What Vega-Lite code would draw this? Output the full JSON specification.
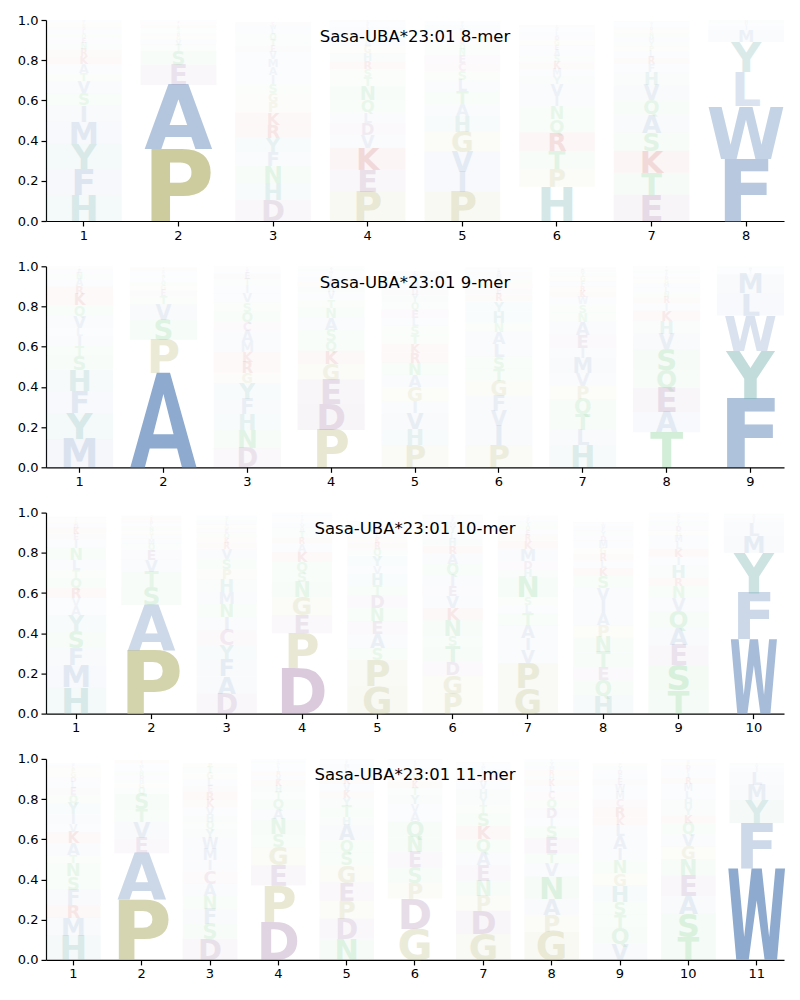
{
"$schema":"https://vega.github.io/schema/vega-lite/v6.json",
"padding":{"left":17,"top":14,"right":5,"bottom":5},
"background":"white",
"config":{"view":{"stroke":null},"font":"DejaVu Sans",
"axis":{"domainColor":"#000","tickColor":"#000","labelColor":"#000","labelFont":"DejaVu Sans","labelFontSize":13,"tickSize":5,"labelPadding":3,"grid":false,"title":null,"domainWidth":1.2,"tickWidth":1.2},
"title":{"font":"DejaVu Sans","fontSize":16.5,"fontWeight":"normal","color":"#000","anchor":"middle","frame":"group","offset":-31}},
"spacing":45.3,
"bounds":"flush",
"datasets":{"logo":[
{"k":8,"p":1,"a":"H","h":0.13},{"k":8,"p":1,"a":"F","h":0.13},{"k":8,"p":1,"a":"Y","h":0.125},{"k":8,"p":1,"a":"M","h":0.11},{"k":8,"p":1,"a":"I","h":0.08},{"k":8,"p":1,"a":"S","h":0.06},{"k":8,"p":1,"a":"V","h":0.06},{"k":8,"p":1,"a":"T","h":0.04},{"k":8,"p":1,"a":"A","h":0.045},{"k":8,"p":1,"a":"K","h":0.04},{"k":8,"p":1,"a":"R","h":0.035},{"k":8,"p":1,"a":"N","h":0.03},{"k":8,"p":1,"a":"E","h":0.025},{"k":8,"p":1,"a":"Q","h":0.02},{"k":8,"p":1,"a":"L","h":0.02},{"k":8,"p":1,"a":"D","h":0.015},{"k":8,"p":1,"a":"G","h":0.015},{"k":8,"p":1,"a":"P","h":0.01},{"k":8,"p":1,"a":"W","h":0.01},
{"k":8,"p":2,"a":"P","h":0.357},{"k":8,"p":2,"a":"A","h":0.32},{"k":8,"p":2,"a":"E","h":0.1},{"k":8,"p":2,"a":"S","h":0.07},{"k":8,"p":2,"a":"T","h":0.03},{"k":8,"p":2,"a":"V","h":0.025},{"k":8,"p":2,"a":"G","h":0.02},{"k":8,"p":2,"a":"D","h":0.015},{"k":8,"p":2,"a":"Q","h":0.012},{"k":8,"p":2,"a":"N","h":0.012},{"k":8,"p":2,"a":"K","h":0.01},{"k":8,"p":2,"a":"L","h":0.008},{"k":8,"p":2,"a":"I","h":0.008},{"k":8,"p":2,"a":"R","h":0.007},{"k":8,"p":2,"a":"M","h":0.006},
{"k":8,"p":3,"a":"D","h":0.105},{"k":8,"p":3,"a":"H","h":0.085},{"k":8,"p":3,"a":"N","h":0.085},{"k":8,"p":3,"a":"F","h":0.07},{"k":8,"p":3,"a":"Y","h":0.07},{"k":8,"p":3,"a":"R","h":0.065},{"k":8,"p":3,"a":"K","h":0.06},{"k":8,"p":3,"a":"P","h":0.05},{"k":8,"p":3,"a":"G","h":0.045},{"k":8,"p":3,"a":"S","h":0.045},{"k":8,"p":3,"a":"I","h":0.045},{"k":8,"p":3,"a":"A","h":0.04},{"k":8,"p":3,"a":"M","h":0.04},{"k":8,"p":3,"a":"V","h":0.035},{"k":8,"p":3,"a":"E","h":0.03},{"k":8,"p":3,"a":"T","h":0.03},{"k":8,"p":3,"a":"Q","h":0.03},{"k":8,"p":3,"a":"L","h":0.025},{"k":8,"p":3,"a":"W","h":0.02},{"k":8,"p":3,"a":"C","h":0.015},
{"k":8,"p":4,"a":"P","h":0.145},{"k":8,"p":4,"a":"E","h":0.11},{"k":8,"p":4,"a":"K","h":0.11},{"k":8,"p":4,"a":"V","h":0.065},{"k":8,"p":4,"a":"D","h":0.06},{"k":8,"p":4,"a":"L","h":0.05},{"k":8,"p":4,"a":"Q","h":0.06},{"k":8,"p":4,"a":"N","h":0.07},{"k":8,"p":4,"a":"T","h":0.045},{"k":8,"p":4,"a":"S","h":0.04},{"k":8,"p":4,"a":"R","h":0.04},{"k":8,"p":4,"a":"H","h":0.04},{"k":8,"p":4,"a":"G","h":0.035},{"k":8,"p":4,"a":"A","h":0.03},{"k":8,"p":4,"a":"Y","h":0.025},{"k":8,"p":4,"a":"M","h":0.02},{"k":8,"p":4,"a":"I","h":0.02},{"k":8,"p":4,"a":"F","h":0.015},{"k":8,"p":4,"a":"W","h":0.01},{"k":8,"p":4,"a":"C","h":0.01},
{"k":8,"p":5,"a":"P","h":0.145},{"k":8,"p":5,"a":"I","h":0.1},{"k":8,"p":5,"a":"V","h":0.1},{"k":8,"p":5,"a":"G","h":0.1},{"k":8,"p":5,"a":"H","h":0.075},{"k":8,"p":5,"a":"A","h":0.06},{"k":8,"p":5,"a":"T","h":0.065},{"k":8,"p":5,"a":"L","h":0.055},{"k":8,"p":5,"a":"S","h":0.045},{"k":8,"p":5,"a":"C","h":0.04},{"k":8,"p":5,"a":"E","h":0.04},{"k":8,"p":5,"a":"N","h":0.03},{"k":8,"p":5,"a":"Q","h":0.025},{"k":8,"p":5,"a":"D","h":0.02},{"k":8,"p":5,"a":"K","h":0.02},{"k":8,"p":5,"a":"R","h":0.02},{"k":8,"p":5,"a":"M","h":0.02},{"k":8,"p":5,"a":"Y","h":0.015},{"k":8,"p":5,"a":"F","h":0.01},{"k":8,"p":5,"a":"W","h":0.01},
{"k":8,"p":6,"a":"H","h":0.17},{"k":8,"p":6,"a":"P","h":0.09},{"k":8,"p":6,"a":"T","h":0.09},{"k":8,"p":6,"a":"R","h":0.09},{"k":8,"p":6,"a":"Q","h":0.065},{"k":8,"p":6,"a":"N","h":0.065},{"k":8,"p":6,"a":"I","h":0.05},{"k":8,"p":6,"a":"V","h":0.06},{"k":8,"p":6,"a":"Y","h":0.04},{"k":8,"p":6,"a":"M","h":0.035},{"k":8,"p":6,"a":"K","h":0.035},{"k":8,"p":6,"a":"S","h":0.03},{"k":8,"p":6,"a":"A","h":0.03},{"k":8,"p":6,"a":"E","h":0.025},{"k":8,"p":6,"a":"G","h":0.025},{"k":8,"p":6,"a":"D","h":0.02},{"k":8,"p":6,"a":"L","h":0.02},{"k":8,"p":6,"a":"F","h":0.015},{"k":8,"p":6,"a":"W","h":0.01},{"k":8,"p":6,"a":"C","h":0.01},
{"k":8,"p":7,"a":"E","h":0.13},{"k":8,"p":7,"a":"T","h":0.11},{"k":8,"p":7,"a":"K","h":0.11},{"k":8,"p":7,"a":"S","h":0.09},{"k":8,"p":7,"a":"A","h":0.09},{"k":8,"p":7,"a":"Q","h":0.07},{"k":8,"p":7,"a":"V","h":0.075},{"k":8,"p":7,"a":"H","h":0.065},{"k":8,"p":7,"a":"F","h":0.04},{"k":8,"p":7,"a":"R","h":0.035},{"k":8,"p":7,"a":"L","h":0.03},{"k":8,"p":7,"a":"P","h":0.025},{"k":8,"p":7,"a":"Y","h":0.025},{"k":8,"p":7,"a":"M","h":0.02},{"k":8,"p":7,"a":"N","h":0.02},{"k":8,"p":7,"a":"G","h":0.015},{"k":8,"p":7,"a":"D","h":0.015},{"k":8,"p":7,"a":"I","h":0.015},{"k":8,"p":7,"a":"W","h":0.01},{"k":8,"p":7,"a":"C","h":0.005},
{"k":8,"p":8,"a":"F","h":0.31},{"k":8,"p":8,"a":"W","h":0.26},{"k":8,"p":8,"a":"L","h":0.17},{"k":8,"p":8,"a":"Y","h":0.15},{"k":8,"p":8,"a":"M","h":0.06},{"k":8,"p":8,"a":"I","h":0.02},{"k":8,"p":8,"a":"V","h":0.015},{"k":8,"p":8,"a":"H","h":0.015},
{"k":9,"p":1,"a":"M","h":0.14},{"k":9,"p":1,"a":"Y","h":0.13},{"k":9,"p":1,"a":"F","h":0.11},{"k":9,"p":1,"a":"H","h":0.105},{"k":9,"p":1,"a":"S","h":0.07},{"k":9,"p":1,"a":"T","h":0.05},{"k":9,"p":1,"a":"I","h":0.05},{"k":9,"p":1,"a":"L","h":0.04},{"k":9,"p":1,"a":"V","h":0.06},{"k":9,"p":1,"a":"Q","h":0.05},{"k":9,"p":1,"a":"K","h":0.055},{"k":9,"p":1,"a":"R","h":0.04},{"k":9,"p":1,"a":"A","h":0.035},{"k":9,"p":1,"a":"N","h":0.03},{"k":9,"p":1,"a":"E","h":0.02},{"k":9,"p":1,"a":"G","h":0.01},{"k":9,"p":1,"a":"D","h":0.005},
{"k":9,"p":2,"a":"A","h":0.47},{"k":9,"p":2,"a":"P","h":0.165},{"k":9,"p":2,"a":"S","h":0.1},{"k":9,"p":2,"a":"V","h":0.075},{"k":9,"p":2,"a":"T","h":0.04},{"k":9,"p":2,"a":"E","h":0.03},{"k":9,"p":2,"a":"G","h":0.025},{"k":9,"p":2,"a":"Q","h":0.02},{"k":9,"p":2,"a":"L","h":0.015},{"k":9,"p":2,"a":"N","h":0.015},{"k":9,"p":2,"a":"I","h":0.01},{"k":9,"p":2,"a":"M","h":0.01},{"k":9,"p":2,"a":"D","h":0.01},{"k":9,"p":2,"a":"K","h":0.005},{"k":9,"p":2,"a":"R","h":0.005},
{"k":9,"p":3,"a":"D","h":0.095},{"k":9,"p":3,"a":"N","h":0.09},{"k":9,"p":3,"a":"H","h":0.08},{"k":9,"p":3,"a":"F","h":0.075},{"k":9,"p":3,"a":"Y","h":0.08},{"k":9,"p":3,"a":"G","h":0.05},{"k":9,"p":3,"a":"R","h":0.055},{"k":9,"p":3,"a":"K","h":0.05},{"k":9,"p":3,"a":"M","h":0.05},{"k":9,"p":3,"a":"A","h":0.055},{"k":9,"p":3,"a":"C","h":0.045},{"k":9,"p":3,"a":"Q","h":0.05},{"k":9,"p":3,"a":"S","h":0.045},{"k":9,"p":3,"a":"V","h":0.045},{"k":9,"p":3,"a":"I","h":0.04},{"k":9,"p":3,"a":"T","h":0.03},{"k":9,"p":3,"a":"E","h":0.03},{"k":9,"p":3,"a":"L","h":0.015},{"k":9,"p":3,"a":"W","h":0.01},{"k":9,"p":3,"a":"P","h":0.01},
{"k":9,"p":4,"a":"P","h":0.185},{"k":9,"p":4,"a":"D","h":0.13},{"k":9,"p":4,"a":"E","h":0.12},{"k":9,"p":4,"a":"G","h":0.08},{"k":9,"p":4,"a":"K","h":0.065},{"k":9,"p":4,"a":"Q","h":0.05},{"k":9,"p":4,"a":"S","h":0.055},{"k":9,"p":4,"a":"A","h":0.06},{"k":9,"p":4,"a":"N","h":0.05},{"k":9,"p":4,"a":"T","h":0.04},{"k":9,"p":4,"a":"V","h":0.035},{"k":9,"p":4,"a":"H","h":0.03},{"k":9,"p":4,"a":"R","h":0.025},{"k":9,"p":4,"a":"L","h":0.02},{"k":9,"p":4,"a":"I","h":0.015},{"k":9,"p":4,"a":"M","h":0.015},{"k":9,"p":4,"a":"Y","h":0.015},{"k":9,"p":4,"a":"F","h":0.01},
{"k":9,"p":5,"a":"P","h":0.11},{"k":9,"p":5,"a":"H","h":0.08},{"k":9,"p":5,"a":"V","h":0.08},{"k":9,"p":5,"a":"I","h":0.06},{"k":9,"p":5,"a":"G","h":0.07},{"k":9,"p":5,"a":"A","h":0.06},{"k":9,"p":5,"a":"N","h":0.06},{"k":9,"p":5,"a":"R","h":0.05},{"k":9,"p":5,"a":"K","h":0.045},{"k":9,"p":5,"a":"T","h":0.045},{"k":9,"p":5,"a":"S","h":0.045},{"k":9,"p":5,"a":"L","h":0.04},{"k":9,"p":5,"a":"E","h":0.04},{"k":9,"p":5,"a":"Q","h":0.035},{"k":9,"p":5,"a":"Y","h":0.035},{"k":9,"p":5,"a":"D","h":0.03},{"k":9,"p":5,"a":"M","h":0.03},{"k":9,"p":5,"a":"F","h":0.025},{"k":9,"p":5,"a":"W","h":0.02},{"k":9,"p":5,"a":"C","h":0.015},
{"k":9,"p":6,"a":"P","h":0.11},{"k":9,"p":6,"a":"I","h":0.095},{"k":9,"p":6,"a":"V","h":0.075},{"k":9,"p":6,"a":"F","h":0.075},{"k":9,"p":6,"a":"G","h":0.075},{"k":9,"p":6,"a":"T","h":0.06},{"k":9,"p":6,"a":"S","h":0.06},{"k":9,"p":6,"a":"L","h":0.065},{"k":9,"p":6,"a":"A","h":0.06},{"k":9,"p":6,"a":"N","h":0.045},{"k":9,"p":6,"a":"H","h":0.055},{"k":9,"p":6,"a":"Y","h":0.05},{"k":9,"p":6,"a":"R","h":0.035},{"k":9,"p":6,"a":"E","h":0.03},{"k":9,"p":6,"a":"K","h":0.025},{"k":9,"p":6,"a":"Q","h":0.025},{"k":9,"p":6,"a":"M","h":0.02},{"k":9,"p":6,"a":"D","h":0.015},{"k":9,"p":6,"a":"W","h":0.01},{"k":9,"p":6,"a":"C","h":0.01},
{"k":9,"p":7,"a":"H","h":0.11},{"k":9,"p":7,"a":"L","h":0.075},{"k":9,"p":7,"a":"T","h":0.08},{"k":9,"p":7,"a":"Q","h":0.075},{"k":9,"p":7,"a":"P","h":0.065},{"k":9,"p":7,"a":"V","h":0.065},{"k":9,"p":7,"a":"M","h":0.075},{"k":9,"p":7,"a":"I","h":0.05},{"k":9,"p":7,"a":"E","h":0.065},{"k":9,"p":7,"a":"A","h":0.065},{"k":9,"p":7,"a":"N","h":0.045},{"k":9,"p":7,"a":"S","h":0.04},{"k":9,"p":7,"a":"W","h":0.035},{"k":9,"p":7,"a":"K","h":0.03},{"k":9,"p":7,"a":"R","h":0.025},{"k":9,"p":7,"a":"F","h":0.025},{"k":9,"p":7,"a":"G","h":0.025},{"k":9,"p":7,"a":"Y","h":0.02},{"k":9,"p":7,"a":"D","h":0.015},{"k":9,"p":7,"a":"C","h":0.01},
{"k":9,"p":8,"a":"T","h":0.175},{"k":9,"p":8,"a":"A","h":0.1},{"k":9,"p":8,"a":"E","h":0.12},{"k":9,"p":8,"a":"Q","h":0.09},{"k":9,"p":8,"a":"S","h":0.105},{"k":9,"p":8,"a":"V","h":0.075},{"k":9,"p":8,"a":"H","h":0.065},{"k":9,"p":8,"a":"K","h":0.05},{"k":9,"p":8,"a":"I","h":0.035},{"k":9,"p":8,"a":"R","h":0.03},{"k":9,"p":8,"a":"N","h":0.025},{"k":9,"p":8,"a":"L","h":0.025},{"k":9,"p":8,"a":"M","h":0.02},{"k":9,"p":8,"a":"G","h":0.02},{"k":9,"p":8,"a":"D","h":0.015},{"k":9,"p":8,"a":"F","h":0.015},{"k":9,"p":8,"a":"Y","h":0.015},{"k":9,"p":8,"a":"P","h":0.01},{"k":9,"p":8,"a":"W","h":0.005},{"k":9,"p":8,"a":"C","h":0.005},
{"k":9,"p":9,"a":"F","h":0.34},{"k":9,"p":9,"a":"Y","h":0.24},{"k":9,"p":9,"a":"W","h":0.175},{"k":9,"p":9,"a":"L","h":0.11},{"k":9,"p":9,"a":"M","h":0.095},{"k":9,"p":9,"a":"I","h":0.015},{"k":9,"p":9,"a":"V","h":0.015},{"k":9,"p":9,"a":"H","h":0.01},
{"k":10,"p":1,"a":"H","h":0.13},{"k":10,"p":1,"a":"M","h":0.11},{"k":10,"p":1,"a":"F","h":0.085},{"k":10,"p":1,"a":"S","h":0.085},{"k":10,"p":1,"a":"Y","h":0.08},{"k":10,"p":1,"a":"A","h":0.045},{"k":10,"p":1,"a":"V","h":0.04},{"k":10,"p":1,"a":"R","h":0.05},{"k":10,"p":1,"a":"Q","h":0.05},{"k":10,"p":1,"a":"T","h":0.04},{"k":10,"p":1,"a":"L","h":0.05},{"k":10,"p":1,"a":"N","h":0.06},{"k":10,"p":1,"a":"I","h":0.04},{"k":10,"p":1,"a":"E","h":0.03},{"k":10,"p":1,"a":"K","h":0.03},{"k":10,"p":1,"a":"D","h":0.02},{"k":10,"p":1,"a":"G","h":0.015},{"k":10,"p":1,"a":"P","h":0.01},{"k":10,"p":1,"a":"C","h":0.01},
{"k":10,"p":2,"a":"P","h":0.315},{"k":10,"p":2,"a":"A","h":0.225},{"k":10,"p":2,"a":"S","h":0.09},{"k":10,"p":2,"a":"T","h":0.075},{"k":10,"p":2,"a":"V","h":0.06},{"k":10,"p":2,"a":"E","h":0.05},{"k":10,"p":2,"a":"Q","h":0.03},{"k":10,"p":2,"a":"M","h":0.025},{"k":10,"p":2,"a":"I","h":0.02},{"k":10,"p":2,"a":"G","h":0.02},{"k":10,"p":2,"a":"N","h":0.02},{"k":10,"p":2,"a":"L","h":0.015},{"k":10,"p":2,"a":"D","h":0.015},{"k":10,"p":2,"a":"K","h":0.01},{"k":10,"p":2,"a":"R","h":0.01},{"k":10,"p":2,"a":"H","h":0.005},
{"k":10,"p":3,"a":"D","h":0.1},{"k":10,"p":3,"a":"A","h":0.085},{"k":10,"p":3,"a":"F","h":0.085},{"k":10,"p":3,"a":"Y","h":0.07},{"k":10,"p":3,"a":"C","h":0.075},{"k":10,"p":3,"a":"I","h":0.065},{"k":10,"p":3,"a":"N","h":0.065},{"k":10,"p":3,"a":"M","h":0.06},{"k":10,"p":3,"a":"H","h":0.065},{"k":10,"p":3,"a":"P","h":0.05},{"k":10,"p":3,"a":"S","h":0.05},{"k":10,"p":3,"a":"V","h":0.05},{"k":10,"p":3,"a":"R","h":0.03},{"k":10,"p":3,"a":"K","h":0.025},{"k":10,"p":3,"a":"Q","h":0.025},{"k":10,"p":3,"a":"E","h":0.02},{"k":10,"p":3,"a":"G","h":0.02},{"k":10,"p":3,"a":"L","h":0.02},{"k":10,"p":3,"a":"T","h":0.015},{"k":10,"p":3,"a":"W","h":0.01},
{"k":10,"p":4,"a":"D","h":0.225},{"k":10,"p":4,"a":"P","h":0.175},{"k":10,"p":4,"a":"E","h":0.09},{"k":10,"p":4,"a":"G","h":0.09},{"k":10,"p":4,"a":"N","h":0.075},{"k":10,"p":4,"a":"S","h":0.05},{"k":10,"p":4,"a":"Q","h":0.05},{"k":10,"p":4,"a":"K","h":0.05},{"k":10,"p":4,"a":"A","h":0.04},{"k":10,"p":4,"a":"R","h":0.03},{"k":10,"p":4,"a":"T","h":0.03},{"k":10,"p":4,"a":"H","h":0.02},{"k":10,"p":4,"a":"V","h":0.02},{"k":10,"p":4,"a":"L","h":0.015},{"k":10,"p":4,"a":"M","h":0.01},{"k":10,"p":4,"a":"I","h":0.01},{"k":10,"p":4,"a":"Y","h":0.01},{"k":10,"p":4,"a":"F","h":0.005},{"k":10,"p":4,"a":"C","h":0.005},
{"k":10,"p":5,"a":"G","h":0.135},{"k":10,"p":5,"a":"P","h":0.13},{"k":10,"p":5,"a":"S","h":0.06},{"k":10,"p":5,"a":"A","h":0.07},{"k":10,"p":5,"a":"E","h":0.065},{"k":10,"p":5,"a":"N","h":0.065},{"k":10,"p":5,"a":"D","h":0.065},{"k":10,"p":5,"a":"T","h":0.05},{"k":10,"p":5,"a":"H","h":0.055},{"k":10,"p":5,"a":"V","h":0.04},{"k":10,"p":5,"a":"Y","h":0.05},{"k":10,"p":5,"a":"Q","h":0.035},{"k":10,"p":5,"a":"R","h":0.03},{"k":10,"p":5,"a":"K","h":0.025},{"k":10,"p":5,"a":"L","h":0.025},{"k":10,"p":5,"a":"I","h":0.02},{"k":10,"p":5,"a":"M","h":0.02},{"k":10,"p":5,"a":"F","h":0.01},{"k":10,"p":5,"a":"W","h":0.005},{"k":10,"p":5,"a":"C","h":0.005},
{"k":10,"p":6,"a":"P","h":0.1},{"k":10,"p":6,"a":"G","h":0.09},{"k":10,"p":6,"a":"D","h":0.065},{"k":10,"p":6,"a":"T","h":0.08},{"k":10,"p":6,"a":"S","h":0.05},{"k":10,"p":6,"a":"N","h":0.08},{"k":10,"p":6,"a":"K","h":0.06},{"k":10,"p":6,"a":"V","h":0.06},{"k":10,"p":6,"a":"E","h":0.05},{"k":10,"p":6,"a":"I","h":0.055},{"k":10,"p":6,"a":"Q","h":0.055},{"k":10,"p":6,"a":"A","h":0.05},{"k":10,"p":6,"a":"R","h":0.04},{"k":10,"p":6,"a":"H","h":0.035},{"k":10,"p":6,"a":"L","h":0.03},{"k":10,"p":6,"a":"Y","h":0.03},{"k":10,"p":6,"a":"M","h":0.025},{"k":10,"p":6,"a":"F","h":0.015},{"k":10,"p":6,"a":"W","h":0.01},{"k":10,"p":6,"a":"C","h":0.01},
{"k":10,"p":7,"a":"G","h":0.125},{"k":10,"p":7,"a":"P","h":0.125},{"k":10,"p":7,"a":"V","h":0.065},{"k":10,"p":7,"a":"I","h":0.06},{"k":10,"p":7,"a":"A","h":0.065},{"k":10,"p":7,"a":"T","h":0.06},{"k":10,"p":7,"a":"L","h":0.04},{"k":10,"p":7,"a":"S","h":0.04},{"k":10,"p":7,"a":"N","h":0.1},{"k":10,"p":7,"a":"H","h":0.04},{"k":10,"p":7,"a":"D","h":0.04},{"k":10,"p":7,"a":"M","h":0.06},{"k":10,"p":7,"a":"K","h":0.04},{"k":10,"p":7,"a":"R","h":0.03},{"k":10,"p":7,"a":"E","h":0.025},{"k":10,"p":7,"a":"Q","h":0.02},{"k":10,"p":7,"a":"Y","h":0.02},{"k":10,"p":7,"a":"F","h":0.015},{"k":10,"p":7,"a":"W","h":0.01},{"k":10,"p":7,"a":"C","h":0.005},
{"k":10,"p":8,"a":"H","h":0.09},{"k":10,"p":8,"a":"Q","h":0.075},{"k":10,"p":8,"a":"E","h":0.065},{"k":10,"p":8,"a":"T","h":0.075},{"k":10,"p":8,"a":"N","h":0.075},{"k":10,"p":8,"a":"P","h":0.06},{"k":10,"p":8,"a":"A","h":0.06},{"k":10,"p":8,"a":"I","h":0.065},{"k":10,"p":8,"a":"V","h":0.06},{"k":10,"p":8,"a":"S","h":0.06},{"k":10,"p":8,"a":"K","h":0.04},{"k":10,"p":8,"a":"L","h":0.035},{"k":10,"p":8,"a":"R","h":0.035},{"k":10,"p":8,"a":"G","h":0.03},{"k":10,"p":8,"a":"M","h":0.035},{"k":10,"p":8,"a":"D","h":0.025},{"k":10,"p":8,"a":"Y","h":0.025},{"k":10,"p":8,"a":"F","h":0.02},{"k":10,"p":8,"a":"W","h":0.015},{"k":10,"p":8,"a":"C","h":0.01},
{"k":10,"p":9,"a":"T","h":0.115},{"k":10,"p":9,"a":"S","h":0.125},{"k":10,"p":9,"a":"E","h":0.1},{"k":10,"p":9,"a":"A","h":0.085},{"k":10,"p":9,"a":"Q","h":0.085},{"k":10,"p":9,"a":"V","h":0.065},{"k":10,"p":9,"a":"N","h":0.06},{"k":10,"p":9,"a":"R","h":0.04},{"k":10,"p":9,"a":"H","h":0.065},{"k":10,"p":9,"a":"I","h":0.04},{"k":10,"p":9,"a":"K","h":0.04},{"k":10,"p":9,"a":"L","h":0.035},{"k":10,"p":9,"a":"M","h":0.03},{"k":10,"p":9,"a":"G","h":0.025},{"k":10,"p":9,"a":"D","h":0.025},{"k":10,"p":9,"a":"Y","h":0.02},{"k":10,"p":9,"a":"F","h":0.015},{"k":10,"p":9,"a":"P","h":0.015},{"k":10,"p":9,"a":"W","h":0.01},{"k":10,"p":9,"a":"C","h":0.005},
{"k":10,"p":10,"a":"W","h":0.37},{"k":10,"p":10,"a":"F","h":0.23},{"k":10,"p":10,"a":"Y","h":0.2},{"k":10,"p":10,"a":"M","h":0.085},{"k":10,"p":10,"a":"L","h":0.065},{"k":10,"p":10,"a":"I","h":0.02},{"k":10,"p":10,"a":"V","h":0.015},{"k":10,"p":10,"a":"H","h":0.01},
{"k":11,"p":1,"a":"H","h":0.12},{"k":11,"p":1,"a":"M","h":0.09},{"k":11,"p":1,"a":"R","h":0.065},{"k":11,"p":1,"a":"F","h":0.075},{"k":11,"p":1,"a":"S","h":0.065},{"k":11,"p":1,"a":"N","h":0.065},{"k":11,"p":1,"a":"T","h":0.04},{"k":11,"p":1,"a":"A","h":0.06},{"k":11,"p":1,"a":"K","h":0.055},{"k":11,"p":1,"a":"V","h":0.04},{"k":11,"p":1,"a":"I","h":0.05},{"k":11,"p":1,"a":"Y","h":0.055},{"k":11,"p":1,"a":"Q","h":0.04},{"k":11,"p":1,"a":"E","h":0.035},{"k":11,"p":1,"a":"L","h":0.03},{"k":11,"p":1,"a":"D","h":0.025},{"k":11,"p":1,"a":"G","h":0.025},{"k":11,"p":1,"a":"P","h":0.02},{"k":11,"p":1,"a":"C","h":0.015},{"k":11,"p":1,"a":"W","h":0.01},
{"k":11,"p":2,"a":"P","h":0.3},{"k":11,"p":2,"a":"A","h":0.23},{"k":11,"p":2,"a":"E","h":0.075},{"k":11,"p":2,"a":"V","h":0.08},{"k":11,"p":2,"a":"T","h":0.065},{"k":11,"p":2,"a":"S","h":0.075},{"k":11,"p":2,"a":"Q","h":0.03},{"k":11,"p":2,"a":"G","h":0.025},{"k":11,"p":2,"a":"H","h":0.02},{"k":11,"p":2,"a":"D","h":0.02},{"k":11,"p":2,"a":"N","h":0.02},{"k":11,"p":2,"a":"L","h":0.015},{"k":11,"p":2,"a":"M","h":0.015},{"k":11,"p":2,"a":"I","h":0.01},{"k":11,"p":2,"a":"K","h":0.01},{"k":11,"p":2,"a":"R","h":0.005},
{"k":11,"p":3,"a":"D","h":0.105},{"k":11,"p":3,"a":"S","h":0.075},{"k":11,"p":3,"a":"F","h":0.075},{"k":11,"p":3,"a":"N","h":0.065},{"k":11,"p":3,"a":"A","h":0.06},{"k":11,"p":3,"a":"C","h":0.065},{"k":11,"p":3,"a":"I","h":0.05},{"k":11,"p":3,"a":"M","h":0.055},{"k":11,"p":3,"a":"W","h":0.055},{"k":11,"p":3,"a":"Y","h":0.045},{"k":11,"p":3,"a":"Q","h":0.035},{"k":11,"p":3,"a":"H","h":0.035},{"k":11,"p":3,"a":"V","h":0.04},{"k":11,"p":3,"a":"K","h":0.035},{"k":11,"p":3,"a":"R","h":0.04},{"k":11,"p":3,"a":"E","h":0.03},{"k":11,"p":3,"a":"L","h":0.035},{"k":11,"p":3,"a":"G","h":0.03},{"k":11,"p":3,"a":"T","h":0.03},{"k":11,"p":3,"a":"P","h":0.02},
{"k":11,"p":4,"a":"D","h":0.19},{"k":11,"p":4,"a":"P","h":0.18},{"k":11,"p":4,"a":"E","h":0.1},{"k":11,"p":4,"a":"G","h":0.09},{"k":11,"p":4,"a":"S","h":0.065},{"k":11,"p":4,"a":"N","h":0.075},{"k":11,"p":4,"a":"A","h":0.05},{"k":11,"p":4,"a":"Q","h":0.05},{"k":11,"p":4,"a":"T","h":0.035},{"k":11,"p":4,"a":"H","h":0.03},{"k":11,"p":4,"a":"K","h":0.03},{"k":11,"p":4,"a":"V","h":0.025},{"k":11,"p":4,"a":"R","h":0.02},{"k":11,"p":4,"a":"I","h":0.015},{"k":11,"p":4,"a":"L","h":0.015},{"k":11,"p":4,"a":"M","h":0.01},{"k":11,"p":4,"a":"Y","h":0.01},{"k":11,"p":4,"a":"F","h":0.005},{"k":11,"p":4,"a":"W","h":0.005},
{"k":11,"p":5,"a":"N","h":0.105},{"k":11,"p":5,"a":"D","h":0.1},{"k":11,"p":5,"a":"P","h":0.09},{"k":11,"p":5,"a":"E","h":0.09},{"k":11,"p":5,"a":"G","h":0.085},{"k":11,"p":5,"a":"S","h":0.065},{"k":11,"p":5,"a":"Q","h":0.06},{"k":11,"p":5,"a":"A","h":0.075},{"k":11,"p":5,"a":"H","h":0.04},{"k":11,"p":5,"a":"T","h":0.055},{"k":11,"p":5,"a":"Y","h":0.04},{"k":11,"p":5,"a":"K","h":0.035},{"k":11,"p":5,"a":"V","h":0.035},{"k":11,"p":5,"a":"R","h":0.03},{"k":11,"p":5,"a":"I","h":0.025},{"k":11,"p":5,"a":"L","h":0.025},{"k":11,"p":5,"a":"M","h":0.02},{"k":11,"p":5,"a":"F","h":0.015},{"k":11,"p":5,"a":"W","h":0.005},{"k":11,"p":5,"a":"C","h":0.005},
{"k":11,"p":6,"a":"G","h":0.155},{"k":11,"p":6,"a":"D","h":0.15},{"k":11,"p":6,"a":"P","h":0.08},{"k":11,"p":6,"a":"S","h":0.075},{"k":11,"p":6,"a":"E","h":0.075},{"k":11,"p":6,"a":"N","h":0.075},{"k":11,"p":6,"a":"Q","h":0.08},{"k":11,"p":6,"a":"A","h":0.045},{"k":11,"p":6,"a":"V","h":0.04},{"k":11,"p":6,"a":"Y","h":0.045},{"k":11,"p":6,"a":"T","h":0.035},{"k":11,"p":6,"a":"K","h":0.03},{"k":11,"p":6,"a":"R","h":0.025},{"k":11,"p":6,"a":"H","h":0.025},{"k":11,"p":6,"a":"I","h":0.02},{"k":11,"p":6,"a":"L","h":0.015},{"k":11,"p":6,"a":"M","h":0.01},{"k":11,"p":6,"a":"F","h":0.01},{"k":11,"p":6,"a":"W","h":0.005},{"k":11,"p":6,"a":"C","h":0.005},
{"k":11,"p":7,"a":"G","h":0.13},{"k":11,"p":7,"a":"D","h":0.115},{"k":11,"p":7,"a":"P","h":0.075},{"k":11,"p":7,"a":"N","h":0.075},{"k":11,"p":7,"a":"E","h":0.075},{"k":11,"p":7,"a":"A","h":0.065},{"k":11,"p":7,"a":"Q","h":0.065},{"k":11,"p":7,"a":"K","h":0.065},{"k":11,"p":7,"a":"S","h":0.065},{"k":11,"p":7,"a":"T","h":0.04},{"k":11,"p":7,"a":"Y","h":0.04},{"k":11,"p":7,"a":"H","h":0.04},{"k":11,"p":7,"a":"V","h":0.035},{"k":11,"p":7,"a":"R","h":0.025},{"k":11,"p":7,"a":"I","h":0.02},{"k":11,"p":7,"a":"L","h":0.02},{"k":11,"p":7,"a":"M","h":0.015},{"k":11,"p":7,"a":"F","h":0.01},{"k":11,"p":7,"a":"W","h":0.005},{"k":11,"p":7,"a":"C","h":0.005},
{"k":11,"p":8,"a":"G","h":0.14},{"k":11,"p":8,"a":"P","h":0.085},{"k":11,"p":8,"a":"A","h":0.08},{"k":11,"p":8,"a":"N","h":0.11},{"k":11,"p":8,"a":"V","h":0.065},{"k":11,"p":8,"a":"T","h":0.05},{"k":11,"p":8,"a":"E","h":0.075},{"k":11,"p":8,"a":"S","h":0.06},{"k":11,"p":8,"a":"I","h":0.04},{"k":11,"p":8,"a":"D","h":0.05},{"k":11,"p":8,"a":"Q","h":0.045},{"k":11,"p":8,"a":"C","h":0.035},{"k":11,"p":8,"a":"L","h":0.03},{"k":11,"p":8,"a":"K","h":0.03},{"k":11,"p":8,"a":"H","h":0.025},{"k":11,"p":8,"a":"R","h":0.025},{"k":11,"p":8,"a":"M","h":0.02},{"k":11,"p":8,"a":"Y","h":0.02},{"k":11,"p":8,"a":"F","h":0.01},{"k":11,"p":8,"a":"W","h":0.005},
{"k":11,"p":9,"a":"V","h":0.08},{"k":11,"p":9,"a":"Q","h":0.08},{"k":11,"p":9,"a":"T","h":0.065},{"k":11,"p":9,"a":"S","h":0.065},{"k":11,"p":9,"a":"H","h":0.08},{"k":11,"p":9,"a":"G","h":0.06},{"k":11,"p":9,"a":"N","h":0.065},{"k":11,"p":9,"a":"I","h":0.055},{"k":11,"p":9,"a":"A","h":0.065},{"k":11,"p":9,"a":"L","h":0.055},{"k":11,"p":9,"a":"K","h":0.04},{"k":11,"p":9,"a":"R","h":0.05},{"k":11,"p":9,"a":"C","h":0.04},{"k":11,"p":9,"a":"M","h":0.035},{"k":11,"p":9,"a":"W","h":0.035},{"k":11,"p":9,"a":"E","h":0.03},{"k":11,"p":9,"a":"F","h":0.025},{"k":11,"p":9,"a":"D","h":0.02},{"k":11,"p":9,"a":"Y","h":0.02},{"k":11,"p":9,"a":"P","h":0.015},
{"k":11,"p":10,"a":"T","h":0.115},{"k":11,"p":10,"a":"S","h":0.115},{"k":11,"p":10,"a":"A","h":0.09},{"k":11,"p":10,"a":"E","h":0.1},{"k":11,"p":10,"a":"N","h":0.08},{"k":11,"p":10,"a":"G","h":0.065},{"k":11,"p":10,"a":"V","h":0.06},{"k":11,"p":10,"a":"Q","h":0.055},{"k":11,"p":10,"a":"K","h":0.04},{"k":11,"p":10,"a":"Y","h":0.04},{"k":11,"p":10,"a":"H","h":0.04},{"k":11,"p":10,"a":"L","h":0.04},{"k":11,"p":10,"a":"M","h":0.035},{"k":11,"p":10,"a":"R","h":0.03},{"k":11,"p":10,"a":"I","h":0.025},{"k":11,"p":10,"a":"F","h":0.02},{"k":11,"p":10,"a":"D","h":0.02},{"k":11,"p":10,"a":"P","h":0.015},{"k":11,"p":10,"a":"W","h":0.01},{"k":11,"p":10,"a":"C","h":0.005},
{"k":11,"p":11,"a":"W","h":0.455},{"k":11,"p":11,"a":"F","h":0.225},{"k":11,"p":11,"a":"Y","h":0.115},{"k":11,"p":11,"a":"M","h":0.075},{"k":11,"p":11,"a":"L","h":0.065},{"k":11,"p":11,"a":"I","h":0.02},{"k":11,"p":11,"a":"V","h":0.015},{"k":11,"p":11,"a":"H","h":0.01}
]},
"vconcat":[
{"width":738,"height":201,"data":{"name":"logo"},"title":{"text":"Sasa-UBA*23:01 8-mer"},
"transform":[{"filter":"datum.k==8"},{"stack":"h","groupby":["p"],"as":["y0","y1"]}],
"encoding":{"x":{"field":"p","type":"ordinal","scale":{"paddingInner":0.2,"paddingOuter":0},"axis":{"labelAngle":0,"title":null}},
"color":{"field":"a","type":"nominal","legend":null,"scale":{"domain":["A","V","L","I","M","F","W","Y","H","P","G","D","E","K","R","S","T","N","Q","C"],"range":["#8eaace","#8eaace","#8eaace","#8eaace","#8eaace","#8eaace","#8eaace","#7db7b3","#7db7b3","#bcbc80","#bcbc80","#ac88b0","#ac88b0","#d07070","#d07070","#7acd8a","#7acd8a","#7acd8a","#7acd8a","#c08cb0"]}}},
"layer":[
{"transform":[{"filter":"datum.h<0.15"}],"mark":{"type":"bar"},"encoding":{"y":{"field":"y0","type":"quantitative","stack":null,"scale":{"domain":[0,1],"nice":false},"axis":{"values":[0,0.2,0.4,0.6,0.8,1],"format":".1f","title":null}},"y2":{"field":"y1"},"fillOpacity":{"field":"h","type":"quantitative","legend":null,"scale":{"type":"pow","exponent":1.3,"domain":[0,0.45],"range":[0.025,0.32],"clamp":true}}}},
{"transform":[{"filter":"datum.h<=0.36"}],"mark":{"type":"text","font":"DejaVu Sans","fontWeight":"bold","baseline":"alphabetic","align":"center"},"encoding":{"y":{"field":"y0","type":"quantitative","stack":null},"text":{"field":"a"},"opacity":{"field":"h","type":"quantitative","legend":null,"scale":{"type":"pow","exponent":1.3,"domain":[0,0.45],"range":[0.05,1],"clamp":true}},"size":{"field":"h","type":"quantitative","legend":null,"scale":{"type":"linear","domain":[0,1],"range":[0,275.7]}}}},
{"transform":[{"filter":"datum.h>0.36"}],"mark":{"type":"point","filled":true,"strokeWidth":0},"encoding":{"y":{"field":"y0","type":"quantitative","stack":null},"shape":{"field":"a","type":"nominal","legend":null,"scale":{"domain":["A","W"],"range":["M-0.7,0L-0.14,-2L0.14,-2L0.7,0L0.392,0L0.29,-0.4L-0.29,-0.4L-0.392,0ZM-0.215,-0.7L0.215,-0.7L0,-1.55Z","M-0.62,-2L-0.409,-2L-0.273,-0.5L-0.112,-2L0.112,-2L0.273,-0.5L0.409,-2L0.62,-2L0.446,0L0.174,0L0,-1.3L-0.174,0L-0.446,0Z"]}},"opacity":{"field":"h","type":"quantitative","legend":null,"scale":{"type":"pow","exponent":1.3,"domain":[0,0.45],"range":[0.05,1],"clamp":true}},"size":{"field":"h","type":"quantitative","legend":null,"scale":{"type":"pow","exponent":2,"domain":[0,1],"range":[0,40401]}}}}
],
"resolve":{"scale":{"size":"independent"}}},
{"width":738,"height":201,"data":{"name":"logo"},"title":{"text":"Sasa-UBA*23:01 9-mer"},
"transform":[{"filter":"datum.k==9"},{"stack":"h","groupby":["p"],"as":["y0","y1"]}],
"encoding":{"x":{"field":"p","type":"ordinal","scale":{"paddingInner":0.2,"paddingOuter":0},"axis":{"labelAngle":0,"title":null}},
"color":{"field":"a","type":"nominal","legend":null,"scale":{"domain":["A","V","L","I","M","F","W","Y","H","P","G","D","E","K","R","S","T","N","Q","C"],"range":["#8eaace","#8eaace","#8eaace","#8eaace","#8eaace","#8eaace","#8eaace","#7db7b3","#7db7b3","#bcbc80","#bcbc80","#ac88b0","#ac88b0","#d07070","#d07070","#7acd8a","#7acd8a","#7acd8a","#7acd8a","#c08cb0"]}}},
"layer":[
{"transform":[{"filter":"datum.h<0.15"}],"mark":{"type":"bar"},"encoding":{"y":{"field":"y0","type":"quantitative","stack":null,"scale":{"domain":[0,1],"nice":false},"axis":{"values":[0,0.2,0.4,0.6,0.8,1],"format":".1f","title":null}},"y2":{"field":"y1"},"fillOpacity":{"field":"h","type":"quantitative","legend":null,"scale":{"type":"pow","exponent":1.3,"domain":[0,0.45],"range":[0.025,0.32],"clamp":true}}}},
{"transform":[{"filter":"datum.h<=0.36"}],"mark":{"type":"text","font":"DejaVu Sans","fontWeight":"bold","baseline":"alphabetic","align":"center"},"encoding":{"y":{"field":"y0","type":"quantitative","stack":null},"text":{"field":"a"},"opacity":{"field":"h","type":"quantitative","legend":null,"scale":{"type":"pow","exponent":1.3,"domain":[0,0.45],"range":[0.05,1],"clamp":true}},"size":{"field":"h","type":"quantitative","legend":null,"scale":{"type":"linear","domain":[0,1],"range":[0,275.7]}}}},
{"transform":[{"filter":"datum.h>0.36"}],"mark":{"type":"point","filled":true,"strokeWidth":0},"encoding":{"y":{"field":"y0","type":"quantitative","stack":null},"shape":{"field":"a","type":"nominal","legend":null,"scale":{"domain":["A","W"],"range":["M-0.7,0L-0.14,-2L0.14,-2L0.7,0L0.392,0L0.29,-0.4L-0.29,-0.4L-0.392,0ZM-0.215,-0.7L0.215,-0.7L0,-1.55Z","M-0.62,-2L-0.409,-2L-0.273,-0.5L-0.112,-2L0.112,-2L0.273,-0.5L0.409,-2L0.62,-2L0.446,0L0.174,0L0,-1.3L-0.174,0L-0.446,0Z"]}},"opacity":{"field":"h","type":"quantitative","legend":null,"scale":{"type":"pow","exponent":1.3,"domain":[0,0.45],"range":[0.05,1],"clamp":true}},"size":{"field":"h","type":"quantitative","legend":null,"scale":{"type":"pow","exponent":2,"domain":[0,1],"range":[0,40401]}}}}
],
"resolve":{"scale":{"size":"independent"}}},
{"width":738,"height":201,"data":{"name":"logo"},"title":{"text":"Sasa-UBA*23:01 10-mer"},
"transform":[{"filter":"datum.k==10"},{"stack":"h","groupby":["p"],"as":["y0","y1"]}],
"encoding":{"x":{"field":"p","type":"ordinal","scale":{"paddingInner":0.2,"paddingOuter":0},"axis":{"labelAngle":0,"title":null}},
"color":{"field":"a","type":"nominal","legend":null,"scale":{"domain":["A","V","L","I","M","F","W","Y","H","P","G","D","E","K","R","S","T","N","Q","C"],"range":["#8eaace","#8eaace","#8eaace","#8eaace","#8eaace","#8eaace","#8eaace","#7db7b3","#7db7b3","#bcbc80","#bcbc80","#ac88b0","#ac88b0","#d07070","#d07070","#7acd8a","#7acd8a","#7acd8a","#7acd8a","#c08cb0"]}}},
"layer":[
{"transform":[{"filter":"datum.h<0.15"}],"mark":{"type":"bar"},"encoding":{"y":{"field":"y0","type":"quantitative","stack":null,"scale":{"domain":[0,1],"nice":false},"axis":{"values":[0,0.2,0.4,0.6,0.8,1],"format":".1f","title":null}},"y2":{"field":"y1"},"fillOpacity":{"field":"h","type":"quantitative","legend":null,"scale":{"type":"pow","exponent":1.3,"domain":[0,0.45],"range":[0.025,0.32],"clamp":true}}}},
{"transform":[{"filter":"datum.h<=0.36"}],"mark":{"type":"text","font":"DejaVu Sans","fontWeight":"bold","baseline":"alphabetic","align":"center"},"encoding":{"y":{"field":"y0","type":"quantitative","stack":null},"text":{"field":"a"},"opacity":{"field":"h","type":"quantitative","legend":null,"scale":{"type":"pow","exponent":1.3,"domain":[0,0.45],"range":[0.05,1],"clamp":true}},"size":{"field":"h","type":"quantitative","legend":null,"scale":{"type":"linear","domain":[0,1],"range":[0,275.7]}}}},
{"transform":[{"filter":"datum.h>0.36"}],"mark":{"type":"point","filled":true,"strokeWidth":0},"encoding":{"y":{"field":"y0","type":"quantitative","stack":null},"shape":{"field":"a","type":"nominal","legend":null,"scale":{"domain":["A","W"],"range":["M-0.7,0L-0.14,-2L0.14,-2L0.7,0L0.392,0L0.29,-0.4L-0.29,-0.4L-0.392,0ZM-0.215,-0.7L0.215,-0.7L0,-1.55Z","M-0.62,-2L-0.409,-2L-0.273,-0.5L-0.112,-2L0.112,-2L0.273,-0.5L0.409,-2L0.62,-2L0.446,0L0.174,0L0,-1.3L-0.174,0L-0.446,0Z"]}},"opacity":{"field":"h","type":"quantitative","legend":null,"scale":{"type":"pow","exponent":1.3,"domain":[0,0.45],"range":[0.05,1],"clamp":true}},"size":{"field":"h","type":"quantitative","legend":null,"scale":{"type":"pow","exponent":2,"domain":[0,1],"range":[0,40401]}}}}
],
"resolve":{"scale":{"size":"independent"}}},
{"width":738,"height":201,"data":{"name":"logo"},"title":{"text":"Sasa-UBA*23:01 11-mer"},
"transform":[{"filter":"datum.k==11"},{"stack":"h","groupby":["p"],"as":["y0","y1"]}],
"encoding":{"x":{"field":"p","type":"ordinal","scale":{"paddingInner":0.2,"paddingOuter":0},"axis":{"labelAngle":0,"title":null}},
"color":{"field":"a","type":"nominal","legend":null,"scale":{"domain":["A","V","L","I","M","F","W","Y","H","P","G","D","E","K","R","S","T","N","Q","C"],"range":["#8eaace","#8eaace","#8eaace","#8eaace","#8eaace","#8eaace","#8eaace","#7db7b3","#7db7b3","#bcbc80","#bcbc80","#ac88b0","#ac88b0","#d07070","#d07070","#7acd8a","#7acd8a","#7acd8a","#7acd8a","#c08cb0"]}}},
"layer":[
{"transform":[{"filter":"datum.h<0.15"}],"mark":{"type":"bar"},"encoding":{"y":{"field":"y0","type":"quantitative","stack":null,"scale":{"domain":[0,1],"nice":false},"axis":{"values":[0,0.2,0.4,0.6,0.8,1],"format":".1f","title":null}},"y2":{"field":"y1"},"fillOpacity":{"field":"h","type":"quantitative","legend":null,"scale":{"type":"pow","exponent":1.3,"domain":[0,0.45],"range":[0.025,0.32],"clamp":true}}}},
{"transform":[{"filter":"datum.h<=0.36"}],"mark":{"type":"text","font":"DejaVu Sans","fontWeight":"bold","baseline":"alphabetic","align":"center"},"encoding":{"y":{"field":"y0","type":"quantitative","stack":null},"text":{"field":"a"},"opacity":{"field":"h","type":"quantitative","legend":null,"scale":{"type":"pow","exponent":1.3,"domain":[0,0.45],"range":[0.05,1],"clamp":true}},"size":{"field":"h","type":"quantitative","legend":null,"scale":{"type":"linear","domain":[0,1],"range":[0,275.7]}}}},
{"transform":[{"filter":"datum.h>0.36"}],"mark":{"type":"point","filled":true,"strokeWidth":0},"encoding":{"y":{"field":"y0","type":"quantitative","stack":null},"shape":{"field":"a","type":"nominal","legend":null,"scale":{"domain":["A","W"],"range":["M-0.7,0L-0.14,-2L0.14,-2L0.7,0L0.392,0L0.29,-0.4L-0.29,-0.4L-0.392,0ZM-0.215,-0.7L0.215,-0.7L0,-1.55Z","M-0.62,-2L-0.409,-2L-0.273,-0.5L-0.112,-2L0.112,-2L0.273,-0.5L0.409,-2L0.62,-2L0.446,0L0.174,0L0,-1.3L-0.174,0L-0.446,0Z"]}},"opacity":{"field":"h","type":"quantitative","legend":null,"scale":{"type":"pow","exponent":1.3,"domain":[0,0.45],"range":[0.05,1],"clamp":true}},"size":{"field":"h","type":"quantitative","legend":null,"scale":{"type":"pow","exponent":2,"domain":[0,1],"range":[0,40401]}}}}
],
"resolve":{"scale":{"size":"independent"}}}
],
"resolve":{"scale":{"x":"independent","y":"independent"}}
}
